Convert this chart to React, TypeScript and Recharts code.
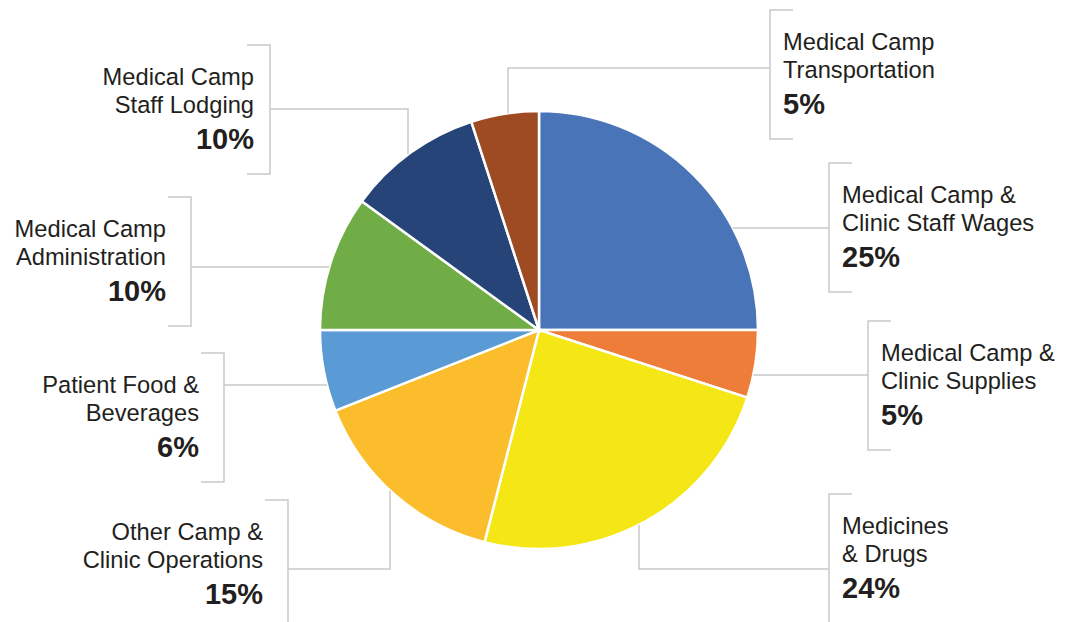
import { PieChart, Pie, Cell } from 'recharts';

const CATEGORIES = [
  'Medical Camp & Clinic Staff Wages',
  'Medical Camp & Clinic Supplies',
  'Medicines & Drugs',
  'Other Camp & Clinic Operations',
  'Patient Food & Beverages',
  'Medical Camp Administration',
  'Medical Camp Staff Lodging',
  'Medical Camp Transportation',
];

const LABEL_LINES = [
  ['Medical Camp &', 'Clinic Staff Wages'],
  ['Medical Camp &', 'Clinic Supplies'],
  ['Medicines', '& Drugs'],
  ['Other Camp &', 'Clinic Operations'],
  ['Patient Food &', 'Beverages'],
  ['Medical Camp', 'Administration'],
  ['Medical Camp', 'Staff Lodging'],
  ['Medical Camp', 'Transportation'],
];

const SHARES = [25, 5, 24, 15, 6, 10, 10, 5];

const COLORS = ['#4a74b8', '#ed7d39', '#f5e616', '#fbbd2c', '#5b9bd5', '#70ad47', '#264478', '#9e4a22'];

// label bracket layout: side, bracket x, bracket top, leader y, optional elbow x, text gap
const LAYOUT = [
  { side: 'R', bx: 829, top: 163, ly: 228, gap: 13 },
  { side: 'R', bx: 868, top: 321, ly: 375, gap: 13 },
  { side: 'R', bx: 829, top: 494, ly: 569, ex: 639, gap: 13 },
  { side: 'L', bx: 288, top: 500, ly: 569, ex: 390, gap: 25 },
  { side: 'L', bx: 224, top: 353, ly: 385, gap: 25 },
  { side: 'L', bx: 191, top: 197, ly: 267, gap: 25 },
  { side: 'L', bx: 270, top: 45, ly: 109, ex: 408, gap: 16 },
  { side: 'R', bx: 770, top: 10, ly: 68, ex: 508, gap: 13 },
];

const data = CATEGORIES.map((name, i) => ({ name, value: SHARES[i] }));

const LINE_COLOR = '#c9c9c9';
const TEXT_COLOR = '#231f20';
const FONT = '"Liberation Sans", Arial, Helvetica, sans-serif';

const renderLabel = (props: any) => {
  const { cx, cy, outerRadius, index, value } = props;
  const l = LAYOUT[index];
  const lines = LABEL_LINES[index];
  const r = outerRadius;
  const right = l.side === 'R';
  const tick = right ? 23 : -23;
  const h = 129;

  let leader: string;
  if (l.ex !== undefined) {
    const dx = l.ex - cx;
    const dy = Math.sqrt(Math.max(r * r - dx * dx, 0));
    const ey = l.ly > cy ? cy + dy : cy - dy;
    leader = `M${l.bx},${l.ly} H${l.ex} V${ey}`;
  } else {
    const dy = l.ly - cy;
    const dx = Math.sqrt(Math.max(r * r - dy * dy, 0));
    const ex = right ? cx + dx : cx - dx;
    leader = `M${l.bx},${l.ly} H${ex}`;
  }

  const tx = right ? l.bx + l.gap : l.bx - l.gap;
  const anchor = right ? 'start' : 'end';

  return (
    <g key={`lbl-${index}`}>
      <path d={leader} stroke={LINE_COLOR} strokeWidth={1.5} fill="none" />
      <path
        d={`M${l.bx + tick},${l.top} H${l.bx} V${l.top + h} H${l.bx + tick}`}
        stroke={LINE_COLOR}
        strokeWidth={1.5}
        fill="none"
      />
      <text x={tx} y={l.top + 32} textAnchor={anchor} dominantBaseline="central" fontSize={23.7} fill={TEXT_COLOR} fontFamily={FONT}>
        {lines[0]}
      </text>
      <text x={tx} y={l.top + 60} textAnchor={anchor} dominantBaseline="central" fontSize={23.7} fill={TEXT_COLOR} fontFamily={FONT}>
        {lines[1]}
      </text>
      <text x={tx} y={l.top + 94} textAnchor={anchor} dominantBaseline="central" fontSize={29} fontWeight="bold" fill={TEXT_COLOR} fontFamily={FONT}>
        {`${value}%`}
      </text>
    </g>
  );
};

export default function App() {
  return (
    <div style={{ position: 'absolute', left: 0, top: 0, width: 1071, height: 622, background: '#fff', overflow: 'hidden' }}>
      <PieChart width={1071} height={622} margin={{ top: 0, right: 0, bottom: 0, left: 0 }}>
        <Pie
          data={data}
          dataKey="value"
          nameKey="name"
          cx={539}
          cy={330}
          outerRadius={219}
          startAngle={90}
          endAngle={-270}
          stroke="#ffffff"
          strokeWidth={2.5}
          label={renderLabel}
          labelLine={false}
          isAnimationActive={false}
        >
          {data.map((d, i) => (
            <Cell key={d.name} fill={COLORS[i]} />
          ))}
        </Pie>
      </PieChart>
    </div>
  );
}
